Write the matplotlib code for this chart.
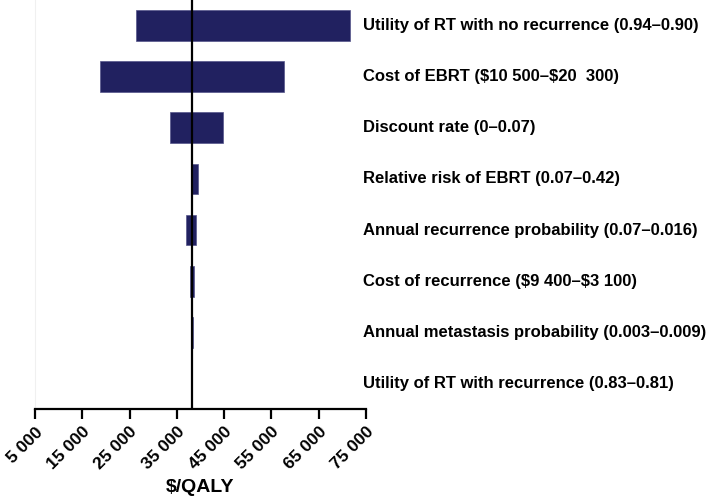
import matplotlib.pyplot as plt
import matplotlib.transforms as mtransforms

plt.rcParams['font.family'] = ['Liberation Sans', 'DejaVu Sans']

params = [
    "Utility of RT with no recurrence (0.94–0.90)",
    r"Cost of EBRT (\$10 500–\$20  300)",
    "Discount rate (0–0.07)",
    "Relative risk of EBRT (0.07–0.42)",
    "Annual recurrence probability (0.07–0.016)",
    r"Cost of recurrence (\$9 400–\$3 100)",
    "Annual metastasis probability (0.003–0.009)",
    "Utility of RT with recurrence (0.83–0.81)",
]
low = [26300, 18700, 33600, 38000, 36900, 37700, 38150, 38100]
high = [71700, 57700, 44800, 39400, 39000, 38650, 38450, 38200]
base_case = 38100
ticks = [5000, 15000, 25000, 35000, 45000, 55000, 65000, 75000]

fig = plt.figure(figsize=(7.11, 5), dpi=100)
ax = fig.add_axes([35 / 711, 1 - 409 / 500, 331 / 711, 409 / 500])

y = list(range(len(params)))
widths = [h - l for l, h in zip(low, high)]
ax.barh(y, widths, left=low, height=0.6, color='#212160',
        edgecolor='#55558a', linewidth=0.5, zorder=2)
ax.axvline(base_case, color='black', linewidth=1.6, zorder=3)

ax.set_xlim(5000, 75000)
ax.set_ylim(len(params) - 0.5, -0.5)
ax.set_xticks(ticks)
ax.set_xticklabels([f"{t:,}".replace(",", " ") for t in ticks],
                   rotation=45, ha='right', rotation_mode='anchor',
                   fontsize=12.5, fontweight='bold')
ax.tick_params(axis='x', length=7, width=1.6, direction='out', pad=4)
ax.set_yticks([])
for s in ('top', 'right'):
    ax.spines[s].set_visible(False)
ax.spines['left'].set_color('#f0f0f0')
ax.spines['bottom'].set_linewidth(1.6)

trans = mtransforms.blended_transform_factory(fig.transFigure, ax.transData)
for yi, name in zip(y, params):
    ax.text(363 / 711, yi, name, transform=trans, ha='left', va='center',
            fontsize=12, fontweight='bold', clip_on=False)

ax.set_xlabel("$/QALY", fontsize=14, fontweight='bold', va='center')
ax.xaxis.set_label_coords(0.5, -78 / 409)

fig.savefig("out.png", dpi=100)
